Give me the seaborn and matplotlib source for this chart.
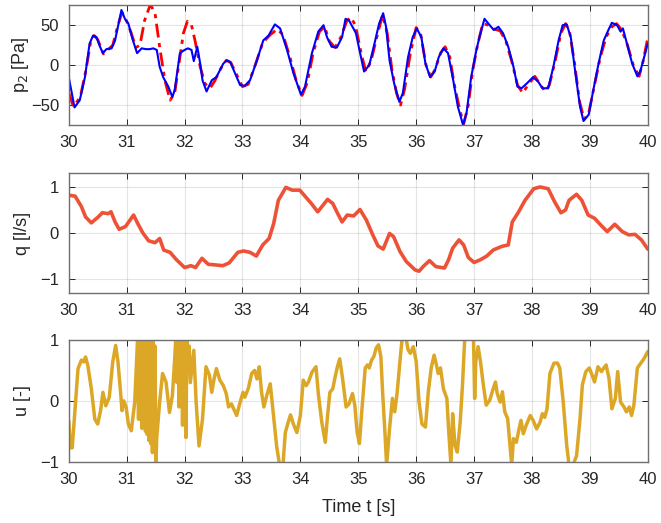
import numpy as np
import pandas as pd
import matplotlib
matplotlib.use("Agg")
import matplotlib.pyplot as plt
import seaborn as sns

# p2 measured (blue)
t_p2 = [30.0, 30.1, 30.19, 30.28, 30.36, 30.42, 30.48, 30.54, 30.59, 30.65, 30.74, 30.8,
        30.91, 30.97, 31.03, 31.1, 31.18, 31.26, 31.33, 31.4, 31.46, 31.52, 31.57, 31.63,
        31.72, 31.79, 31.83, 31.92, 32.0, 32.06, 32.12, 32.16, 32.22, 32.27, 32.31, 32.38,
        32.47, 32.55, 32.67, 32.73, 32.79, 32.87, 32.96, 33.04, 33.13, 33.25, 33.36, 33.45,
        33.56, 33.65, 33.77, 33.88, 34.01, 34.08, 34.2, 34.31, 34.4, 34.46, 34.54, 34.63,
        34.72, 34.78, 34.84, 34.9, 34.96, 35.02, 35.1, 35.19, 35.28, 35.36, 35.43, 35.48,
        35.54, 35.62, 35.71, 35.77, 35.86, 35.94, 36.01, 36.09, 36.16, 36.24, 36.32, 36.39,
        36.47, 36.55, 36.64, 36.72, 36.81, 36.87, 36.95, 37.04, 37.1, 37.18, 37.27, 37.34,
        37.42, 37.5, 37.59, 37.68, 37.75, 37.82, 37.91, 38.02, 38.11, 38.18, 38.28, 38.37,
        38.46, 38.53, 38.6, 38.67, 38.75, 38.83, 38.89, 38.98, 39.06, 39.15, 39.24, 39.32,
        39.38, 39.47, 39.53, 39.57, 39.64, 39.73, 39.82, 39.87, 40.0]
p2_meas = [-15, -53, -44, -15, 27, 37, 35, 23, 15, 20, 21, 31,
           69, 58, 52, 33, 15, 21, 20, 20, 21, 19, -2, -15,
           -27, -40, -31, 15, 19, 21, 19, 5, 23, 2, -19, -33,
           -19, -15, 2, 6, 4, -10, -25, -26, -19, 6, 31, 37,
           51, 46, 19, -10, -37, -27, 15, 42, 50, 35, 23, 22,
           35, 58, 56, 48, 40, 19, -8, 0, 27, 52, 65, 48,
           6, -23, -46, -35, 10, 35, 46, 35, 2, -15, -8, 10,
           21, 15, -19, -52, -75, -60, -15, 19, 37, 58, 50, 44,
           48, 40, 23, -2, -27, -29, -23, -15, -21, -29, -29, -2,
           31, 50, 51, 35, -10, -52, -70, -62, -31, 2, 31, 44,
           53, 50, 42, 46, 27, 2, -14, -8, 27]

# p2 model (red dashed)
t_p2m = [30.0, 30.08, 30.2, 30.3, 30.38, 30.44, 30.5, 30.6, 30.66, 30.76, 30.85, 30.92,
         31.0, 31.08, 31.16, 31.23, 31.31, 31.41, 31.49, 31.57, 31.66, 31.75, 31.83, 31.92,
         31.98, 32.05, 32.12, 32.18, 32.27, 32.35, 32.44, 32.52, 32.62, 32.72, 32.8, 32.9,
         33.0, 33.1, 33.22, 33.35, 33.48, 33.6, 33.7, 33.82, 33.93, 34.03, 34.12, 34.22,
         34.33, 34.42, 34.5, 34.6, 34.7, 34.8, 34.87, 34.95, 35.05, 35.13, 35.22, 35.32,
         35.42, 35.5, 35.58, 35.66, 35.73, 35.8, 35.9, 36.0, 36.08, 36.17, 36.25, 36.33,
         36.42, 36.5, 36.58, 36.66, 36.75, 36.82, 36.9, 36.98, 37.06, 37.15, 37.25, 37.35,
         37.45, 37.55, 37.65, 37.75, 37.84, 37.93, 38.05, 38.14, 38.23, 38.3, 38.4, 38.5,
         38.58, 38.65, 38.74, 38.82, 38.9, 38.98, 39.08, 39.18, 39.28, 39.38, 39.46, 39.55,
         39.65, 39.75, 39.85, 39.92, 40.0]
p2_model = [-35, -52, -40, -5, 30, 37, 32, 14, 18, 25, 50, 66,
            55, 40, 22, 25, 56, 76, 65, 23, -19, -44, -35, 10,
            40, 55, 50, 31, -2, -23, -29, -20, -5, 6, 3, -12,
            -27, -24, 0, 28, 38, 45, 38, 10, -20, -38, -22, 15,
            42, 48, 30, 22, 35, 55, 60, 50, 15, -8, 5, 35,
            63, 40, -5, -35, -50, -30, 15, 47, 38, 0, -15, -5,
            15, 23, 10, -25, -55, -74, -50, -5, 25, 52, 50, 45,
            43, 30, 5, -25, -35, -25, -14, -24, -33, -25, 5, 40,
            52, 42, 0, -45, -68, -60, -25, 10, 35, 48, 52, 44,
            25, 0, -14, 5, 34]

# flow q
t_q = [30.0, 30.11, 30.22, 30.29, 30.39, 30.51, 30.58, 30.68, 30.73, 30.8, 30.87, 30.98,
       31.12, 31.19, 31.28, 31.38, 31.49, 31.57, 31.64, 31.75, 31.86, 32.0, 32.11, 32.19,
       32.3, 32.41, 32.51, 32.66, 32.77, 32.92, 33.02, 33.13, 33.24, 33.35, 33.46, 33.54,
       33.62, 33.75, 33.86, 33.99, 34.08, 34.19, 34.3, 34.37, 34.47, 34.56, 34.63, 34.72,
       34.81, 34.92, 35.03, 35.14, 35.25, 35.34, 35.43, 35.54, 35.61, 35.72, 35.83, 35.98,
       36.05, 36.12, 36.23, 36.34, 36.49, 36.56, 36.63, 36.74, 36.82, 36.9, 37.0, 37.11,
       37.22, 37.33, 37.48, 37.59, 37.66, 37.77, 37.88, 38.03, 38.14, 38.28, 38.39, 38.5,
       38.58, 38.64, 38.77, 38.86, 38.97, 39.08, 39.19, 39.3, 39.43, 39.56, 39.67, 39.78,
       39.89, 40.0]
q_vals = [0.82, 0.8, 0.57, 0.35, 0.22, 0.35, 0.44, 0.42, 0.46, 0.24, 0.08, 0.14,
          0.39, 0.21, 0.0, -0.17, -0.21, -0.12, -0.37, -0.42, -0.58, -0.75, -0.71, -0.75,
          -0.55, -0.68, -0.69, -0.71, -0.65, -0.42, -0.39, -0.42, -0.5, -0.26, -0.12, 0.21,
          0.71, 0.99, 0.93, 0.93, 0.8, 0.64, 0.46, 0.57, 0.73, 0.64, 0.46, 0.24,
          0.39, 0.37, 0.51, 0.28, -0.04, -0.28, -0.35, -0.01, -0.08, -0.4, -0.62, -0.8,
          -0.83, -0.73, -0.6, -0.73, -0.76, -0.58, -0.33, -0.15, -0.26, -0.53, -0.64, -0.58,
          -0.5, -0.37, -0.29, -0.26, 0.24, 0.46, 0.71, 0.96, 1.0, 0.96, 0.68, 0.44,
          0.5, 0.71, 0.84, 0.71, 0.39, 0.32, 0.17, 0.03, 0.19, 0.03, -0.04, -0.03,
          -0.15, -0.35]

# control input u
t_u = [30.0, 30.03, 30.06, 30.1, 30.16, 30.22, 30.26, 30.29, 30.33, 30.39, 30.45, 30.5,
       30.55, 30.59, 30.64, 30.7, 30.76, 30.81, 30.85, 30.89, 30.92, 30.95, 30.99, 31.03,
       31.08, 31.14, 31.175,
       31.19, 31.205, 31.22, 31.235, 31.25, 31.265, 31.28, 31.295, 31.31, 31.325, 31.34,
       31.355, 31.37, 31.385, 31.4, 31.415, 31.43, 31.445, 31.46, 31.475, 31.49, 31.505,
       31.52, 31.57, 31.62, 31.68, 31.74, 31.79, 31.83,
       31.85, 31.87, 31.89, 31.905, 31.92, 31.935, 31.95, 31.965, 31.98, 31.995, 32.01,
       32.025, 32.04, 32.06, 32.08, 32.1,
       32.16, 32.2, 32.25, 32.31, 32.37, 32.43, 32.47, 32.51, 32.55, 32.61, 32.67, 32.72,
       32.76, 32.81, 32.9, 32.96, 33.01, 33.04, 33.1, 33.16, 33.21, 33.25, 33.29, 33.33,
       33.37, 33.42, 33.48, 33.53, 33.59, 33.64, 33.7, 33.74, 33.79, 33.83, 33.88, 33.94,
       34.0, 34.05, 34.1, 34.14, 34.2, 34.27, 34.31, 34.37, 34.43, 34.47, 34.51, 34.56,
       34.6, 34.64, 34.68, 34.73, 34.79, 34.84, 34.9, 34.94, 34.98, 35.02, 35.06, 35.12,
       35.16, 35.19, 35.23, 35.27, 35.31, 35.35, 35.39, 35.42, 35.46, 35.49, 35.54, 35.59,
       35.63, 35.67, 35.72, 35.76, 35.82, 35.86, 35.9, 35.95, 36.0, 36.05, 36.1, 36.16,
       36.21, 36.26, 36.31, 36.35, 36.38, 36.42, 36.47, 36.53, 36.56, 36.6, 36.63, 36.67,
       36.71, 36.76, 36.8, 36.84, 36.99, 37.01, 37.03, 37.07, 37.11, 37.16, 37.21, 37.27,
       37.33, 37.37, 37.4, 37.45, 37.49, 37.53, 37.58, 37.62, 37.65, 37.68, 37.73, 37.77,
       37.81, 37.85, 37.9, 37.97, 38.02, 38.08, 38.14, 38.18, 38.22, 38.26, 38.31, 38.38,
       38.44, 38.48, 38.54, 38.6, 38.64, 38.71, 38.77, 38.83, 38.87, 38.93, 38.99, 39.04,
       39.08, 39.14, 39.2, 39.24, 39.28, 39.33, 39.38, 39.44, 39.48, 39.53, 39.59, 39.63,
       39.68, 39.72, 39.76, 39.82, 39.88, 39.94, 40.0]
u_vals = [-0.33, -0.77, -0.77, -0.24, 0.53, 0.67, 0.64, 0.72, 0.58, 0.2, -0.3, -0.38,
          -0.16, 0.14, -0.08, 0.06, 0.64, 0.91, 0.64, 0.2, -0.16, 0.0, -0.1, -0.38,
          -0.49, -0.02, 0.75,
          1.05, -0.3, 1.05, -0.3, 1.05, -0.45, 1.05, -0.35, 1.05, -0.5, 1.05,
          -0.55, 1.05, -0.65, 1.05, -0.7, 1.05, -0.85, 1.05, -0.6, 0.9, -1.05,
          -0.6, -0.02, 0.45, 0.31, -0.19, 0.09, 0.69,
          1.05, 0.3, 1.05, -0.1, 1.05, 0.1, 1.05, -0.4, 1.05, -0.3, 1.05,
          -0.6, 1.05, 0.5, 0.9, 0.3,
          0.83, -0.02, -0.74, -0.3, 0.56, 0.42, 0.14, 0.36, 0.53, 0.34, 0.25, 0.12,
          -0.1, -0.05, -0.24, -0.02, 0.14, 0.06, 0.2, 0.45, 0.5, 0.36, 0.56, 0.14,
          -0.1, 0.09, 0.28, -0.19, -0.74, -1.05, -1.05, -0.52, -0.35, -0.23, -0.38, -0.52,
          -0.24, 0.34, 0.25, 0.31, 0.47, 0.56, 0.12, -0.35, -0.68, -0.24, 0.14, 0.2,
          0.39, 0.56, 0.69, 0.36, -0.1, -0.05, 0.12, -0.07, -0.51, -0.7, -0.18, 0.54,
          0.59, 0.54, 0.67, 0.73, 0.87, 0.92, 0.73, 0.15, -0.51, -1.05, -0.46, 0.04,
          -0.18, 0.12, 0.65, 1.05, 1.05, 0.84, 0.78, 0.89, 0.65, -0.02, -0.38, -0.43,
          0.15, 0.54, 0.75, 0.59, 0.45, 0.54, 0.2, 0.04, -0.46, -1.05, -0.21, -0.73,
          -0.84, -0.35, 0.26, 1.05, 1.05, 0.04, 0.65, 0.89, 0.65, 0.26, -0.07, 0.01,
          0.2, 0.31, 0.12, -0.02, 0.15, -0.18, -0.29, -0.73, -1.05, -0.62, -0.68, -0.49,
          -0.32, -0.54, -0.4, -0.24, -0.32, -0.46, -0.35, -0.21, -0.27, -0.13, 0.45, 0.62,
          0.62, 0.54, -0.02, -0.73, -1.05, -1.05, -0.9, -0.29, 0.26, 0.48, 0.54, 0.42,
          0.31, 0.56, 0.48, 0.54, 0.59, 0.37, -0.13, 0.04, 0.48, -0.02, -0.1, -0.18,
          -0.1, -0.24, -0.07, 0.54, 0.62, 0.7, 0.81]

xticks = list(range(30, 41))

sns.set_style("ticks")
plt.rcParams["font.family"] = ["Liberation Sans", "DejaVu Sans"]
axis_gray = "#262626"

fig = plt.figure(figsize=(6.61, 5.23), dpi=100)
left, width = 0.104, 0.876
ax1 = fig.add_axes([left, 0.761, width, 0.229])
ax2 = fig.add_axes([left, 0.440, width, 0.229])
ax3 = fig.add_axes([left, 0.117, width, 0.233])

sns.lineplot(x=t_p2m, y=p2_model, ax=ax1, color="#FF0000", linestyle=(0, (5, 2, 1.5, 2)), linewidth=2.0)
sns.lineplot(x=t_p2, y=p2_meas, ax=ax1, color="#0000FF", linewidth=1.5)
sns.lineplot(x=t_q, y=q_vals, ax=ax2, color="#EE5236", linewidth=2.6)
sns.lineplot(x=t_u, y=u_vals, ax=ax3, color="#DCA726", linewidth=2.5)

ax1.set_ylim(-75, 75)
ax1.set_yticks([-50, 0, 50])
ax2.set_ylim(-1.3, 1.3)
ax2.set_yticks([-1, 0, 1])
ax3.set_ylim(-1, 1)
ax3.set_yticks([-1, 0, 1])

ax1.set_ylabel("p$_2$ [Pa]", fontsize=13, color=axis_gray)
ax2.set_ylabel("q [l/s]", fontsize=13, color=axis_gray)
ax3.set_ylabel("u [-]", fontsize=13, color=axis_gray)
ax3.set_xlabel("Time t [s]", fontsize=13, color=axis_gray, labelpad=9)

for ax in (ax1, ax2, ax3):
    ax.set_xlim(30, 40)
    ax.set_xticks(xticks)
    ax.grid(True, color="#262626", alpha=0.12, linewidth=0.8)
    ax.tick_params(direction="in", top=True, right=True, length=4, width=0.7,
                   labelsize=12, colors=axis_gray, pad=7)
    for s in ax.spines.values():
        s.set_visible(True)
        s.set_color("#707070")
        s.set_linewidth(1.0)
    ax.yaxis.set_label_coords(-0.066, 0.5)

fig.savefig("out.png", dpi=100)
